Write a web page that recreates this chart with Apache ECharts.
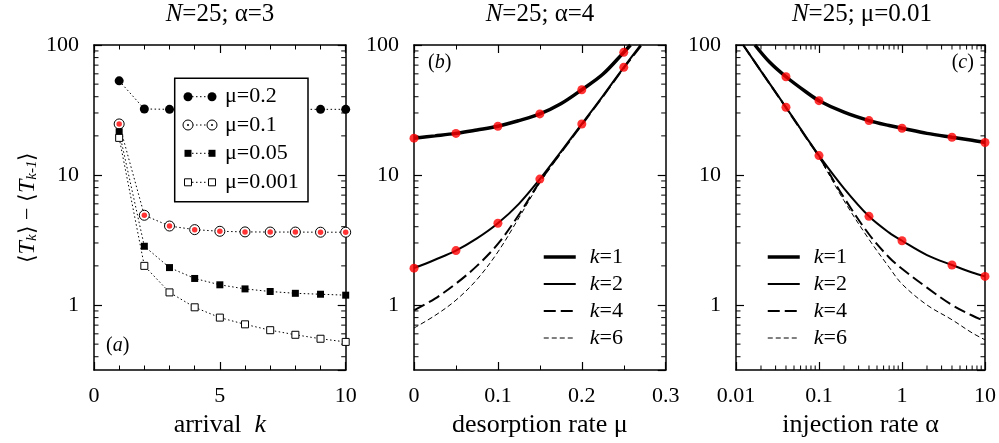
<!DOCTYPE html>
<html>
<head>
<meta charset="utf-8">
<script src="https://cdn.jsdelivr.net/npm/echarts@6/dist/echarts.min.js"></script>
<style>
html, body { margin: 0; padding: 0; background: #fff; }
#chart { width: 999px; height: 443px; }
</style>
</head>
<body>
<div id="chart"></div>
<script>
// ---- panel (a): N=25, alpha=3, increments vs arrival k
var arrivalK = [1, 2, 3, 4, 5, 6, 7, 8, 9, 10];
var muA02 = [53, 32.2, 32.0, 32.0, 32.0, 32.0, 32.0, 32.0, 32.0, 32.0];
var muA01 = [24.7, 4.9, 4.05, 3.8, 3.69, 3.65, 3.64, 3.64, 3.63, 3.63];
var muA005 = [21.5, 2.83, 1.94, 1.60, 1.43, 1.33, 1.27, 1.23, 1.21, 1.19];
var muA0001 = [19.3, 2.0, 1.25, 0.96, 0.80, 0.71, 0.64, 0.59, 0.55, 0.52];
var legendA = ['μ=0.2', 'μ=0.1', 'μ=0.05', 'μ=0.001'];

// ---- panel (b): N=25, alpha=4, vs desorption rate mu
var muB1 = [0, 0.025, 0.05, 0.075, 0.1, 0.125, 0.15, 0.175, 0.2, 0.225, 0.25, 0.258];
var valB1 = [19.2, 20.0, 20.9, 22.2, 23.7, 26.2, 29.5, 35.3, 45.3, 59.5, 87.8, 100];
var muB2 = [0, 0.025, 0.05, 0.075, 0.1, 0.125, 0.15, 0.175, 0.2, 0.225, 0.25, 0.27];
var valB2 = [1.92, 2.23, 2.62, 3.25, 4.25, 6.0, 9.3, 15.1, 24.7, 40.5, 67.3, 100];
var muB46 = [0, 0.025, 0.05, 0.075, 0.1, 0.125, 0.15, 0.175, 0.2, 0.225, 0.25, 0.2715];
var valB4 = [0.91, 1.12, 1.46, 2.0, 2.95, 4.95, 8.9, 14.8, 24.3, 40, 66.5, 100];
var valB6 = [0.665, 0.83, 1.09, 1.57, 2.56, 4.68, 8.7, 14.7, 24.3, 40, 66.5, 100];
var dotMuB = [0, 0.05, 0.1, 0.15, 0.2, 0.25];
var dotB1 = [19.2, 20.9, 23.7, 29.5, 45.3, 87.8];
var dotB2 = [1.92, 2.62, 4.25, 9.3, 24.7, 67.3];

// ---- panel (c): N=25, mu=0.01, vs injection rate alpha
var alphaC1 = [0.0169, 0.0255, 0.04, 0.07, 0.1, 0.2, 0.4, 0.7, 1, 2, 4, 7, 10];
var valC1 = [100, 73.6, 57, 43.5, 37.3, 30.4, 26.2, 24.0, 22.9, 20.9, 19.5, 18.5, 17.8];
var alphaC = [0.0122, 0.02, 0.04, 0.07, 0.1, 0.2, 0.4, 0.7, 1, 2, 4, 7, 10];
var valC2 = [100, 63, 33.2, 19.6, 14.1, 7.9, 4.81, 3.6, 3.12, 2.42, 2.03, 1.78, 1.66];
var valC4 = [100, 63, 33, 19.4, 13.9, 6.7, 3.5, 2.32, 1.9, 1.36, 1.0, 0.83, 0.75];
var valC6 = [100, 63, 33, 19.3, 13.7, 6.35, 3.2, 1.95, 1.45, 1.0, 0.77, 0.61, 0.54];
var dotAlphaC = [0.04, 0.1, 0.4, 1, 4, 10];
var dotC1 = [57, 37.3, 26.2, 22.9, 19.5, 17.8];
var dotC2 = [33.2, 14.1, 4.81, 3.12, 2.03, 1.66];

var kNames = ['k=1', 'k=2', 'k=4', 'k=6'];

// log axis minor tick positions
var yMinor = [0.4, 0.5, 0.6, 0.7, 0.8, 0.9, 2, 3, 4, 5, 6, 7, 8, 9, 20, 30, 40, 50, 60, 70, 80, 90];
var xMinorC = [0.02, 0.03, 0.04, 0.05, 0.06, 0.07, 0.08, 0.09, 0.2, 0.3, 0.4, 0.5, 0.6, 0.7, 0.8, 0.9,
  2, 3, 4, 5, 6, 7, 8, 9];

var FONT = 'Liberation Serif';
var YMIN = 0.3162;

function zip(xs, ys) {
  return xs.map(function (x, i) { return [x, ys[i]]; });
}

function axisBase(extra) {
  var base = {
    axisLine: { onZero: false, lineStyle: { color: '#000', width: 1.5 } },
    axisTick: { inside: true, length: 8, lineStyle: { color: '#000', width: 1.2 } },
    splitLine: { show: false },
    axisLabel: { color: '#000', fontSize: 22, fontFamily: FONT },
    nameTextStyle: { color: '#000', fontSize: 26, fontFamily: FONT,
      rich: { i: { fontStyle: 'italic', fontSize: 26, fontFamily: FONT, color: '#000' } } }
  };
  return Object.assign(base, extra);
}

function mirror(ax) {
  var m = Object.assign({}, ax);
  m.axisLabel = { show: false };
  m.name = '';
  return m;
}

// minor ticks on both vertical frame edges (log y axes)
function yMinorTicks(params, api) {
  var cs = params.coordSys;
  var p = api.coord([api.value(0), api.value(1)]);
  var st = { stroke: '#000', lineWidth: 1 };
  return { type: 'group', children: [
    { type: 'line', shape: { x1: cs.x, y1: p[1], x2: cs.x + 4.5, y2: p[1] }, style: st },
    { type: 'line', shape: { x1: cs.x + cs.width - 4.5, y1: p[1], x2: cs.x + cs.width, y2: p[1] }, style: st }
  ] };
}

// minor ticks on top and bottom edges (log x axis)
function xMinorTicks(params, api) {
  var cs = params.coordSys;
  var p = api.coord([api.value(0), api.value(1)]);
  var st = { stroke: '#000', lineWidth: 1 };
  return { type: 'group', children: [
    { type: 'line', shape: { x1: p[0], y1: cs.y, x2: p[0], y2: cs.y + 4.5 }, style: st },
    { type: 'line', shape: { x1: p[0], y1: cs.y + cs.height - 4.5, x2: p[0], y2: cs.y + cs.height }, style: st }
  ] };
}

var yAxisTpl = axisBase({
  type: 'log', logBase: 10, min: YMIN, max: 100,
  axisLabel: { color: '#000', fontSize: 22, fontFamily: FONT, margin: 15, showMinLabel: false }
});

var xLabel = { color: '#000', fontSize: 22, fontFamily: FONT, margin: 15 };
var xA = axisBase({ type: 'value', gridIndex: 0, min: 0, max: 10, interval: 5, position: 'bottom',
  minorTick: { show: true, splitNumber: 5, length: 4.5, lineStyle: { color: '#000', width: 1 } },
  axisLabel: xLabel, name: 'arrival  {i|k}', nameLocation: 'middle', nameGap: 39 });
var xB = axisBase({ type: 'value', gridIndex: 1, min: 0, max: 0.3, interval: 0.1, position: 'bottom',
  minorTick: { show: true, splitNumber: 2, length: 4.5, lineStyle: { color: '#000', width: 1 } },
  axisLabel: xLabel, name: 'desorption rate μ', nameLocation: 'middle', nameGap: 39 });
var xC = axisBase({ type: 'log', logBase: 10, gridIndex: 2, min: 0.01, max: 10, position: 'bottom',
  axisLabel: xLabel, name: 'injection rate α', nameLocation: 'middle', nameGap: 39 });

function yFor(grid, pos, withName) {
  var y = Object.assign({}, yAxisTpl, { gridIndex: grid, position: pos });
  if (pos === 'right') { y.axisLabel = { show: false }; }
  if (withName) {
    y.name = '⟨{it|T}{sub|k}⟩ − ⟨{it|T}{sub|k-1}⟩';
    y.nameLocation = 'middle';
    y.nameGap = 54;
    y.nameTextStyle = { color: '#000', fontSize: 22, fontFamily: FONT,
      rich: {
        it: { fontStyle: 'italic', fontSize: 24, fontFamily: FONT, color: '#000' },
        sub: { fontStyle: 'italic', fontSize: 15, fontFamily: FONT, color: '#000', verticalAlign: 'bottom' }
      } };
  }
  return y;
}

var dotted = { color: '#000', width: 1, type: [1.5, 2.5] };
var lineK = {
  'k=1': { color: '#000', width: 3.5, type: 'solid' },
  'k=2': { color: '#000', width: 2, type: 'solid' },
  'k=4': { color: '#000', width: 2, type: [12, 5] },
  'k=6': { color: '#000', width: 1, type: [5, 3] }
};

function curve(name, xi, yi, data) {
  return { type: 'line', name: name, xAxisIndex: xi, yAxisIndex: yi, data: data,
    symbol: 'none', smooth: 0.35, lineStyle: lineK[name], itemStyle: { color: '#000' },
    z: 2, silent: true };
}

function redDots(name, xi, yi, data, size) {
  return { type: 'scatter', name: name, xAxisIndex: xi, yAxisIndex: yi, data: data,
    symbol: 'circle', symbolSize: size, itemStyle: { color: '#ff0000' }, z: 4, silent: true };
}

function kFormat(name) {
  return '{s|}{i|k}=' + name.slice(2);
}

function legendK(left) {
  return {
    data: kNames.map(function (n) { return { name: n, lineStyle: lineK[n] }; }),
    left: left, top: 246, orient: 'vertical', padding: 0,
    itemWidth: 32, itemHeight: 12, itemGap: 5, selectedMode: false,
    itemStyle: { opacity: 0 },
    formatter: kFormat,
    textStyle: { color: '#000', fontSize: 22, fontFamily: FONT, lineHeight: 21,
      rich: {
        s: { width: 9 },
        i: { fontStyle: 'italic', fontSize: 22, fontFamily: FONT, color: '#000', lineHeight: 21 }
      } }
  };
}

function titleFor(text, center) {
  return { text: text, left: center, top: 2, textAlign: 'center', padding: 0,
    textStyle: { color: '#000', fontSize: 25, fontWeight: 'normal', fontFamily: FONT,
      rich: { i: { fontStyle: 'italic', fontSize: 25, fontFamily: FONT, color: '#000' } } } };
}

// hand drawn legend box of panel (a)
function legendAGraphic() {
  var rows = [96.7, 125, 153.3, 182.3];
  var els = [{ type: 'rect', z: 100, shape: { x: 174.7, y: 78.3, width: 133.3, height: 123.4 },
    style: { fill: '#fff', stroke: '#000', lineWidth: 1.5 } }];
  rows.forEach(function (y, i) {
    els.push({ type: 'line', z: 101, shape: { x1: 188, y1: y, x2: 212, y2: y },
      style: { stroke: '#000', lineWidth: 1, lineDash: [1.5, 2.5] } });
    [188, 212].forEach(function (x) {
      if (i === 0) {
        els.push({ type: 'circle', z: 102, shape: { cx: x, cy: y, r: 4.5 }, style: { fill: '#000' } });
      } else if (i === 1) {
        els.push({ type: 'circle', z: 102, shape: { cx: x, cy: y, r: 5 },
          style: { fill: '#fff', stroke: '#000', lineWidth: 1 } });
        els.push({ type: 'circle', z: 103, shape: { cx: x, cy: y, r: 1 }, style: { fill: '#000' } });
      } else if (i === 2) {
        els.push({ type: 'rect', z: 102, shape: { x: x - 3.5, y: y - 3.5, width: 7, height: 7 },
          style: { fill: '#000' } });
      } else {
        els.push({ type: 'rect', z: 102, shape: { x: x - 3.5, y: y - 3.5, width: 7, height: 7 },
          style: { fill: '#fff', stroke: '#000', lineWidth: 1 } });
      }
    });
    els.push({ type: 'text', z: 102, x: 225, y: y,
      style: { text: legendA[i], fill: '#000', font: '22px "' + FONT + '"', verticalAlign: 'middle' } });
  });
  return els;
}

function panelLabel(letter, x, y) {
  return { type: 'text', z: 100, x: x, y: y,
    style: { text: '({i|' + letter + '})', fill: '#000', fontSize: 20, fontFamily: FONT, verticalAlign: 'middle',
      rich: { i: { fontStyle: 'italic', fontSize: 20, fontFamily: FONT, fill: '#000' } } } };
}

var option = {
  backgroundColor: '#fff',
  animation: false,
  title: [
    titleFor('{i|N}=25; α=3', 220),
    titleFor('{i|N}=25; α=4', 540),
    titleFor('{i|N}=25; μ=0.01', 862)
  ],
  legend: [legendK(542), legendK(766)],
  grid: [
    { left: 94, top: 45, width: 251.7, height: 325 },
    { left: 414, top: 45, width: 251.7, height: 325 },
    { left: 736, top: 45, width: 251.3, height: 325 }
  ],
  xAxis: [
    xA, Object.assign(mirror(xA), { position: 'top' }),
    xB, Object.assign(mirror(xB), { position: 'top' }),
    xC, Object.assign(mirror(xC), { position: 'top' })
  ],
  yAxis: [
    yFor(0, 'left', true), yFor(0, 'right'),
    yFor(1, 'left'), yFor(1, 'right'),
    yFor(2, 'left'), yFor(2, 'right')
  ],
  graphic: legendAGraphic().concat([
    panelLabel('a', 106, 345.7),
    panelLabel('b', 428, 63),
    panelLabel('c', 951.7, 63)
  ]),
  series: [
    // panel (a)
    { type: 'line', name: legendA[0], xAxisIndex: 0, yAxisIndex: 0, data: zip(arrivalK, muA02),
      symbol: 'circle', symbolSize: 9, itemStyle: { color: '#000' }, lineStyle: dotted, silent: true },
    { type: 'line', name: legendA[1], xAxisIndex: 0, yAxisIndex: 0, data: zip(arrivalK, muA01),
      symbol: 'circle', symbolSize: 10, itemStyle: { color: '#fff', borderColor: '#000', borderWidth: 1 },
      lineStyle: dotted, silent: true },
    { type: 'line', name: legendA[2], xAxisIndex: 0, yAxisIndex: 0, data: zip(arrivalK, muA005),
      symbol: 'rect', symbolSize: 7, itemStyle: { color: '#000' }, lineStyle: dotted, silent: true },
    { type: 'line', name: legendA[3], xAxisIndex: 0, yAxisIndex: 0, data: zip(arrivalK, muA0001),
      symbol: 'rect', symbolSize: 7, itemStyle: { color: '#fff', borderColor: '#000', borderWidth: 1 },
      lineStyle: dotted, silent: true },
    redDots('a dots', 0, 0, zip(arrivalK, muA01), 5.5),
    // panel (b)
    curve('k=1', 2, 2, zip(muB1, valB1)),
    curve('k=2', 2, 2, zip(muB2, valB2)),
    curve('k=4', 2, 2, zip(muB46, valB4)),
    curve('k=6', 2, 2, zip(muB46, valB6)),
    redDots('b dots 1', 2, 2, zip(dotMuB, dotB1), 9),
    redDots('b dots 2', 2, 2, zip(dotMuB, dotB2), 9),
    // panel (c)
    curve('k=1', 4, 4, zip(alphaC1, valC1)),
    curve('k=2', 4, 4, zip(alphaC, valC2)),
    curve('k=4', 4, 4, zip(alphaC, valC4)),
    curve('k=6', 4, 4, zip(alphaC, valC6)),
    redDots('c dots 1', 4, 4, zip(dotAlphaC, dotC1), 9),
    redDots('c dots 2', 4, 4, zip(dotAlphaC, dotC2), 9),
    // log minor ticks
    { type: 'custom', name: 'ticks a', xAxisIndex: 0, yAxisIndex: 0, silent: true,
      data: yMinor.map(function (v) { return [5, v]; }), renderItem: yMinorTicks },
    { type: 'custom', name: 'ticks b', xAxisIndex: 2, yAxisIndex: 2, silent: true,
      data: yMinor.map(function (v) { return [0.1, v]; }), renderItem: yMinorTicks },
    { type: 'custom', name: 'ticks c', xAxisIndex: 4, yAxisIndex: 4, silent: true,
      data: yMinor.map(function (v) { return [1, v]; }), renderItem: yMinorTicks },
    { type: 'custom', name: 'ticks cx', xAxisIndex: 4, yAxisIndex: 4, silent: true,
      data: xMinorC.map(function (v) { return [v, 10]; }), renderItem: xMinorTicks }
  ]
};

var chart = echarts.init(document.getElementById('chart'), null, { renderer: 'canvas' });
chart.setOption(option);
</script>
</body>
</html>
